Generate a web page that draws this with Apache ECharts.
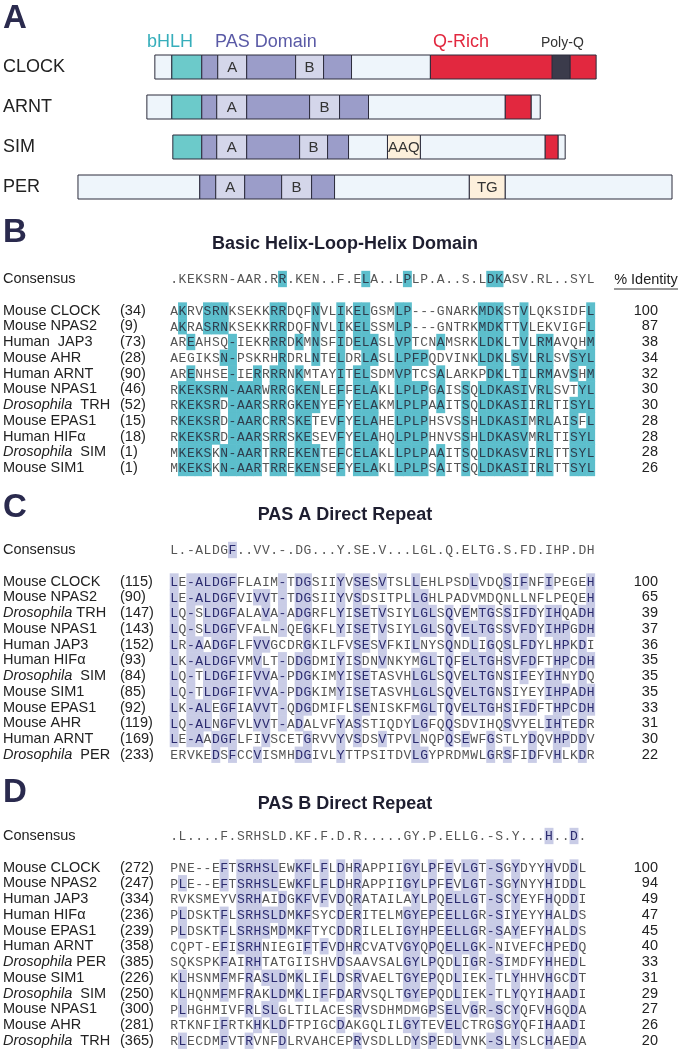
<!DOCTYPE html>
<html><head><meta charset="utf-8">
<script src="https://cdn.jsdelivr.net/npm/echarts@6/dist/echarts.min.js"></script>
<style>html,body{margin:0;padding:0;background:#fff}#c{width:679px;height:1050px}</style>
</head><body><div id="c"></div>
<script>
// ---------- Panel A: domain architecture (segment boundaries in map units) ----------
const archRows = ['CLOCK', 'ARNT', 'SIM', 'PER'];
const archCLOCK = [[154,171,'w'],[171,201,'t'],[201,217,'p'],[217,246,'l','A'],[246,295,'p'],[295,323,'l','B'],[323,351,'p'],[351,430,'w'],[430,552,'r'],[552,570,'k'],[570,596,'r']];
const archARNT = [[146,171,'w'],[171,201,'t'],[201,216,'p'],[216,246,'l','A'],[246,309,'p'],[309,339,'l','B'],[339,368,'p'],[368,505,'w'],[505,531,'r'],[531,540,'w']];
const archSIM = [[172,201,'t'],[201,216,'p'],[216,246,'l','A'],[246,299,'p'],[299,327,'l','B'],[327,348,'p'],[348,387,'w'],[387,420,'b','AAQ'],[420,545,'w'],[545,558,'r'],[558,565,'w']];
const archPER = [[77,199,'w'],[199,215,'p'],[215,244,'l','A'],[244,281,'p'],[281,311,'l','B'],[311,334,'p'],[334,469,'w'],[469,505,'b','TG'],[505,672,'w']];
const archLegend = ['bHLH', 'PAS Domain', 'Q-Rich', 'Poly-Q'];

// ---------- Panel B: bHLH ----------
const bTitle = 'Basic Helix-Loop-Helix Domain';
const bConsensus = '.KEKSRN-AAR.RR.KEN..F.ELA..LPLP.A..S.LDKASV.RL..SYL';
const bNames = ['Mouse CLOCK','Mouse NPAS2','Human  JAP3','Mouse AHR','Human ARNT','Mouse NPAS1','_Drosophila_  TRH','Mouse EPAS1','Human HIF\u03b1','_Drosophila_  SIM','Mouse SIM1'];
const bStarts = [34, 9, 73, 28, 90, 46, 52, 15, 18, 1, 1];
const bIdentity = [100, 87, 38, 34, 32, 30, 30, 28, 28, 28, 26];
const bSeqs = [
 'AKRVSRNKSEKKRRDQFNVLIKELGSMLP---GNARKMDKSTVLQKSIDFL',
 'AKRASRNKSEKKRRDQFNVLIKELSSMLP---GNTRKMDKTTVLEKVIGFL',
 'AREAHSQ-IEKRRRDKMNSFIDELASLVPTCNAMSRKLDKLTVLRMAVQHM',
 'AEGIKSN-PSKRHRDRLNTELDRLASLLPFPQDVINKLDKLSVLRLSVSYL',
 'ARENHSE-IERRRRNKMTAYITELSDMVPTCSALARKPDKLTILRMAVSHM',
 'RKEKSRN-AARWRRGKENLEFFELAKLLPLPGAISSQLDKASIVRLSVTYL',
 'RKEKSRD-AARSRRGKENYEFYELAKMLPLPAAITSQLDKASIIRLTISYL',
 'RKEKSRD-AARCRRSKETEVFYELAHELPLPHSVSSHLDKASIMRLAISFL',
 'RKEKSRD-AARSRRSKESEVFYELAHQLPLPHNVSSHLDKASVMRLTISYL',
 'MKEKSKN-AARTRREKENTEFCELAKLLPLPAAITSQLDKASVIRLTTSYL',
 'MKEKSKN-AARTRREKENSEFYELAKLLPLPSAITSQLDKASIIRLTTSYL'
];

// ---------- Panel C: PAS A ----------
const cTitle = 'PAS A Direct Repeat';
const cConsensus = 'L.-ALDGF..VV.-.DG...Y.SE.V...LGL.Q.ELTG.S.FD.IHP.DH';
const cNames = ['Mouse CLOCK','Mouse NPAS2','_Drosophila_ TRH','Mouse NPAS1','Human JAP3','Human HIF\u03b1','_Drosophila_  SIM','Mouse SIM1','Mouse EPAS1','Mouse AHR','Human ARNT','_Drosophila_  PER'];
const cStarts = [115, 90, 147, 143, 152, 93, 84, 85, 92, 119, 169, 233];
const cIdentity = [100, 65, 39, 37, 36, 35, 35, 35, 33, 31, 30, 22];
const cSeqs = [
 'LE-ALDGFFLAIM-TDGSIIYVSESVTSLLEHLPSDLVDQSIFNFIPEGEH',
 'LE-ALDGFVIVVT-TDGSIIYVSDSITPLLGHLPADVMDQNLLNFLPEQEH',
 'LQ-SLDGFALAVA-ADGRFLYISETVSIYLGLSQVEMTGSSIFDYIHQADH',
 'LQ-SLDGFVFALN-QEGKFLYISETVSIYLGLSQVELTGSSVFDYIHPGDH',
 'LR-AADGFLFVVGCDRGKILFVSESVFKILNYSQNDLIGQSLFDYLHPKDI',
 'LK-ALDGFVMVLT-DDGDMIYISDNVNKYMGLTQFELTGHSVFDFTHPCDH',
 'LQ-TLDGFIFVVA-PDGKIMYISETASVHLGLSQVELTGNSIFEYIHNYDQ',
 'LQ-TLDGFIFVVA-PDGKIMYISETASVHLGLSQVELTGNSIYEYIHPADH',
 'LK-ALEGFIAVVT-QDGDMIFLSENISKFMGLTQVELTGHSIFDFTHPCDH',
 'LQ-ALNGFVLVVT-ADALVFYASSTIQDYLGFQQSDVIHQSVYELIHTEDR',
 'LE-AADGFLFIVSCETGRVVYVSDSVTPVLNQPQSEWFGSTLYDQVHPDDV',
 'ERVKEDSFCCVISMHDGIVLYTTPSITDVLGYPRDMWLGRSFIDFVHLKDR'
];

// ---------- Panel D: PAS B ----------
const dTitle = 'PAS B Direct Repeat';
const dConsensus = '.L....F.SRHSLD.KF.F.D.R.....GY.P.ELLG.-S.Y...H..D.';
const dNames = ['Mouse CLOCK','Mouse NPAS2','Human JAP3','Human HIF\u03b1','Mouse EPAS1','Human ARNT','_Drosophila_ PER','Mouse SIM1','_Drosophila_  SIM','Mouse NPAS1','Mouse AHR','_Drosophila_  TRH'];
const dStarts = [272, 247, 334, 236, 239, 358, 385, 226, 250, 300, 281, 365];
const dIdentity = [100, 94, 49, 47, 45, 40, 33, 31, 29, 27, 26, 20];
const dSeqs = [
 'PNE--EFTSRHSLEWKFLFLDHRAPPIIGYLPFEVLGT-SGYDYYHVDDL',
 'PLE--EFTSRHSLEWKFLFLDHRAPPIIGYLPFEVLGT-SGYNYYHIDDL',
 'RVKSMEYVSRHAIDGKFVFVDQRATAILAYLPQELLGT-SCYEYFHQDDI',
 'PLDSKTFLSRHSLDMKFSYCDERITELMGYEPEELLGR-SIYEYYHALDS',
 'PLDSKTFLSRHSMDMKFTYCDDRILELIGYHPEELLGR-SAYEFYHALDS',
 'CQPT-EFISRHNIEGIFTFVDHRCVATVGYQPQELLGK-NIVEFCHPEDQ',
 'SQKSPKFAIRHTATGIISHVDSAAVSALGYLPQDLIGR-SIMDFYHHEDL',
 'KLHSNMFMFRASLDMKLIFLDSRVAELTGYEPQDLIEK-TLYHHVHGCDT',
 'KLHQNMFMFRAKLDMKLIFFDARVSQLTGYEPQDLIEK-TLYQYIHAADI',
 'PLHGHMIVFRLSLGLTILACESRVSDHMDMGPSELVGR-SCYQFVHGQDA',
 'RTKNFIFRTKHKLDFTPIGCDAKGQLILGYTEVELCTRGSGYQFIHAADI',
 'RLECDMFVTRVNFDLRVAHCEPRVSDLLDYSPEDLVNK-SLYSLCHAEDA'
];

// ---------- styling / layout ----------
const FONT = "'Liberation Sans', Arial, Helvetica, sans-serif";
const MONO = "'Liberation Mono', 'DejaVu Sans Mono', monospace";
const COLW = 8.33, RS = 15.75, SEQ_LEFT = 170, ID_RIGHT = 658, NUM_LEFT = 120, NAME_LEFT = 3;
const segColor = {w:'#eef5fb', t:'#6ccaca', p:'#9b9dc9', l:'#d4d6ea', r:'#e2283f', k:'#3b3b4b', b:'#fdf0dc'};
const HYDRO = 'ILVMF';

const chart = echarts.init(document.getElementById('c'), null, {renderer:'canvas', width:679, height:1050});

const grids = [], xAxes = [], yAxes = [], series = [];

// Panel A grid
grids.push({left:60, top:47, width:619, height:160});
xAxes.push({gridIndex:0, type:'value', min:60, max:679, show:false});
yAxes.push({gridIndex:0, type:'category', data:archRows, inverse:true,
  axisLine:{show:false}, axisTick:{show:false}, splitLine:{show:false},
  axisLabel:{interval:0, margin:58, align:'left', fontSize:18, color:'#222', fontFamily:FONT}});
const archAll = [archCLOCK, archARNT, archSIM, archPER];
const segMeta = [], segData = [];
archAll.forEach((segs, r) => segs.forEach(s => { segData.push([r, s[0], s[1]]); segMeta.push({t:s[2], label:s[3] || ''}); }));
series.push({type:'custom', xAxisIndex:0, yAxisIndex:0, data:segData, encode:{x:[1,2], y:0},
  renderItem(params, api) {
    const row = api.value(0);
    const p1 = api.coord([api.value(1), row]), p2 = api.coord([api.value(2), row]);
    const bh = api.size([0, 1])[1] * 0.6;
    const m = segMeta[params.dataIndex];
    const ch = [{type:'rect', shape:{x:p1[0], y:p1[1]-bh/2, width:p2[0]-p1[0], height:bh},
      style:{fill:segColor[m.t], stroke:'#2c2c3c', lineWidth:1}}];
    if (m.label) ch.push({type:'text', style:{text:m.label, x:(p1[0]+p2[0])/2, y:p1[1]+1, align:'center', verticalAlign:'middle',
      font:'15px ' + FONT, fill:'#333'}});
    return {type:'group', children:ch};
  }});

function nameFmt(s) { return s.replace(/_(.*?)_/, '{it|$1}'); }

function addAlignment(top, consensus, names, starts, ident, seqs, hlColor, txt, hlTxt, similar) {
  const gi = grids.length;
  const ncol = consensus.length;
  const nrow = seqs.length + 2;
  grids.push({left:SEQ_LEFT, top:top, width:ncol*COLW, height:nrow*RS});
  xAxes.push({gridIndex:gi, type:'value', min:-0.5, max:ncol-0.5, show:false});
  const cats = Array.from({length:nrow}, (_, i) => String(i));
  const base = {gridIndex:gi, type:'category', data:cats, inverse:true,
    axisLine:{show:false}, axisTick:{show:false}, splitLine:{show:false}};
  const nameAxis = yAxes.length;
  yAxes.push(Object.assign({}, base, {position:'left', axisLabel:{interval:0, margin:SEQ_LEFT-NAME_LEFT, align:'left',
    fontSize:14.5, color:'#222', fontFamily:FONT,
    formatter:(v) => { const i = +v; return i === 0 ? 'Consensus' : i === 1 ? '' : nameFmt(names[i-2]); },
    rich:{it:{fontStyle:'italic', fontSize:14.5, color:'#222', fontFamily:FONT}}}}));
  yAxes.push(Object.assign({}, base, {position:'left', axisLabel:{interval:0, margin:SEQ_LEFT-NUM_LEFT, align:'left',
    fontSize:14.5, color:'#222', fontFamily:FONT,
    formatter:(v) => { const i = +v; return i < 2 ? '' : '(' + starts[i-2] + ')'; }}}));
  yAxes.push(Object.assign({}, base, {position:'right', axisLabel:{interval:0, margin:ID_RIGHT-(SEQ_LEFT+ncol*COLW), align:'right',
    fontSize:14.5, color:'#222', fontFamily:FONT,
    formatter:(v) => { const i = +v; return i < 2 ? '' : String(ident[i-2]); }}}));
  const cells = [], data = [];
  for (let j = 0; j < ncol; j++) {
    const c = consensus[j];
    const cons = /[A-Z]/.test(c) && seqs.every(s => s[j] === c);
    cells.push({ch:c, hl:cons}); data.push([j, 0]);
  }
  seqs.forEach((s, i) => {
    for (let j = 0; j < ncol; j++) {
      const c = consensus[j], r = s[j];
      let hl = (/[A-Z]/.test(c) || c === '-') && r === c;
      if (!hl && similar && HYDRO.includes(c) && HYDRO.includes(r)) hl = true;
      cells.push({ch:r, hl:hl}); data.push([j, i+2]);
    }
  });
  series.push({type:'custom', xAxisIndex:gi, yAxisIndex:nameAxis, data:data, encode:{x:0, y:1},
    renderItem(params, api) {
      const cell = cells[params.dataIndex];
      const p = api.coord([api.value(0), api.value(1)]);
      const w = api.size([1, 0])[0], h = api.size([0, 1])[1];
      const ch = [];
      if (cell.hl) ch.push({type:'rect', shape:{x:p[0]-w/2-0.3, y:p[1]-h/2-0.3, width:w+0.6, height:h+0.6}, style:{fill:hlColor}});
      ch.push({type:'text', style:{text:cell.ch, x:p[0], y:p[1]+1, align:'center', verticalAlign:'middle',
        font:'13px ' + MONO, fill:cell.hl ? hlTxt : txt}});
      return {type:'group', children:ch};
    }});
}

addAlignment(279 - RS/2, bConsensus, bNames, bStarts, bIdentity, bSeqs, '#5cbecc', '#555', '#2e3d4d', true);
addAlignment(550 - RS/2, cConsensus, cNames, cStarts, cIdentity, cSeqs, '#c9cce6', '#555', '#2a2a6e', false);
addAlignment(836 - RS/2, dConsensus, dNames, dStarts, dIdentity, dSeqs, '#c9cce6', '#555', '#2a2a6e', false);

const LETTER = 'bold 33px ' + FONT, TITLE = 'bold 18px ' + FONT;
const graphic = [
  {type:'text', left:3, top:2, style:{text:'A', font:LETTER, fill:'#2a2a4e'}},
  {type:'text', x:147, y:42, style:{text:archLegend[0], font:'18px ' + FONT, fill:'#36aebb', verticalAlign:'middle'}},
  {type:'text', x:215, y:42, style:{text:archLegend[1], font:'18px ' + FONT, fill:'#5a5aa6', verticalAlign:'middle'}},
  {type:'text', x:433, y:42, style:{text:archLegend[2], font:'18px ' + FONT, fill:'#e2283f', verticalAlign:'middle'}},
  {type:'text', x:541, y:43, style:{text:archLegend[3], font:'14px ' + FONT, fill:'#333', verticalAlign:'middle'}},
  {type:'text', x:3, y:233, style:{text:'B', font:LETTER, fill:'#2a2a4e', verticalAlign:'middle'}},
  {type:'text', x:345, y:244, style:{text:bTitle, font:TITLE, fill:'#1e1e30', align:'center', verticalAlign:'middle'}},
  {type:'text', x:646, y:280, style:{text:'% Identity', font:'14.5px ' + FONT, fill:'#222', align:'center', verticalAlign:'middle'}},
  {type:'line', shape:{x1:614, y1:289, x2:678, y2:289}, style:{stroke:'#333', lineWidth:1}},
  {type:'text', x:3, y:508, style:{text:'C', font:LETTER, fill:'#2a2a4e', verticalAlign:'middle'}},
  {type:'text', x:345, y:515, style:{text:cTitle, font:TITLE, fill:'#1e1e30', align:'center', verticalAlign:'middle'}},
  {type:'text', x:3, y:793, style:{text:'D', font:LETTER, fill:'#2a2a4e', verticalAlign:'middle'}},
  {type:'text', x:345, y:804, style:{text:dTitle, font:TITLE, fill:'#1e1e30', align:'center', verticalAlign:'middle'}}
];

chart.setOption({animation:false, backgroundColor:'#fff', grid:grids, xAxis:xAxes, yAxis:yAxes, series:series, graphic:graphic});
</script></body></html>
